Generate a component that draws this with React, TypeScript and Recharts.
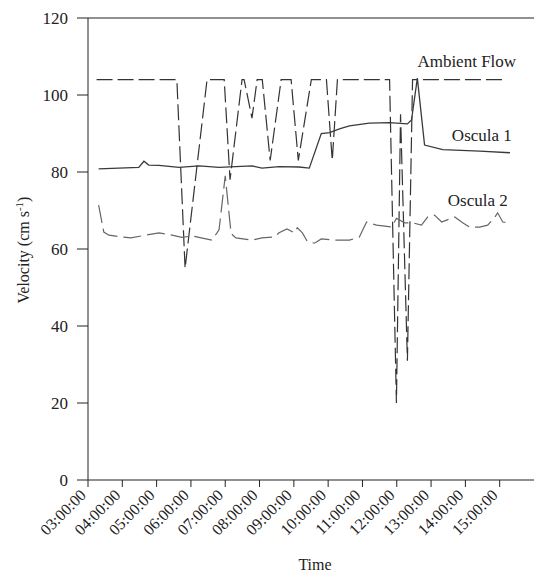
import { Label, Line, LineChart, ReferenceDot, ReferenceLine, XAxis, YAxis } from "recharts";

const FONT = "'Liberation Serif', 'Times New Roman', serif";
const INK = "#222";

const hourTicks = [3, 4, 5, 6, 7, 8, 9, 10, 11, 12, 13, 14, 15];
const hourLabels = [
  "03:00:00", "04:00:00", "05:00:00", "06:00:00", "07:00:00", "08:00:00", "09:00:00",
  "10:00:00", "11:00:00", "12:00:00", "13:00:00", "14:00:00", "15:00:00",
];
const velocityTicks = [0, 20, 40, 60, 80, 100, 120];

// time in decimal hours, velocity in cm/s
const ambientTime = [
  3.25, 5.59, 5.83, 6.47, 6.97, 7.14, 7.49, 7.55, 7.78, 7.93, 8.08, 8.31, 8.63, 8.92, 9.13,
  9.51, 9.95, 10.12, 10.27, 11.79, 11.99, 12.11, 12.31, 12.46, 15.09,
];
const ambientVel = [
  104, 104, 55, 104, 104, 78, 104, 104, 94, 104, 104, 83, 104, 104, 83,
  104, 104, 83, 104, 104, 20, 95, 31, 104, 104,
];

const oscula1Time = [
  3.31, 4.48, 4.63, 4.77, 5.07, 5.65, 6.24, 6.82, 7.78, 8.07, 8.57, 9.15, 9.45, 9.8, 10.04,
  10.33, 10.62, 11.2, 11.79, 12.31, 12.43, 12.6, 12.81, 13.34, 14.42, 15.3,
];
const oscula1Vel = [
  80.8, 81.2, 82.8, 81.8, 81.7, 81.2, 81.6, 81.2, 81.6, 81.0, 81.4, 81.3, 81.0, 90, 90.2,
  91.2, 92, 92.7, 92.8, 92.5, 93.5, 104.4, 87, 85.8, 85.4, 85,
];

const oscula2Time = [
  3.31, 3.46, 3.61, 3.99, 4.25, 4.69, 5.07, 5.45, 5.74, 6.03, 6.61, 6.76, 6.82, 7.0, 7.17,
  7.31, 7.78, 8.07, 8.43, 8.57, 8.8, 9.01, 9.1, 9.25, 9.39, 9.6, 9.8, 10.18, 10.62, 10.91,
  11.12, 11.41, 11.85, 11.99, 12.23, 12.46, 12.72, 12.9, 13.1, 13.31, 13.45, 13.69, 13.92,
  14.12, 14.42, 14.65, 14.86, 14.94, 15.09, 15.24,
];
const oscula2Vel = [
  71.4, 64.4, 63.6, 63.1, 62.9, 63.6, 64.2, 63.6, 63.0, 63.4, 62.3, 64.2, 65, 79, 64,
  62.9, 62.3, 62.9, 63.1, 64.2, 65.2, 64.2, 65.5, 64.2, 62, 61.5, 62.6, 62.3, 62.3, 63.1,
  67, 66.2, 65.7, 68, 66.8, 66.8, 66.2, 68.3, 68.8, 67, 67.5, 68.3, 66.8,
  65.7, 65.7, 66.2, 68.3, 69.4, 67, 66.8,
];

const toRows = (times: number[], vals: number[]) => times.map((t, i) => ({ t, v: vals[i] }));
const ambientData = toRows(ambientTime, ambientVel);
const oscula1Data = toRows(oscula1Time, oscula1Vel);
const oscula2Data = toRows(oscula2Time, oscula2Vel);

function TimeTick(props: any) {
  const { x, payload } = props;
  const label = hourLabels[hourTicks.indexOf(payload.value)] ?? "";
  return (
    <text
      x={0}
      y={0}
      transform={`translate(${x - 1},496) rotate(-45)`}
      textAnchor="end"
      fontFamily={FONT}
      fontSize={16}
      fill={INK}
    >
      {label}
    </text>
  );
}

const VelocityTitle = () => (
  <text
    x={0}
    y={0}
    transform="translate(29,250) rotate(-90)"
    textAnchor="middle"
    fontFamily={FONT}
    fontSize={16}
    fill={INK}
  >
    Velocity (cm s<tspan dy={-6} fontSize={11}>-1</tspan>
    <tspan dy={6}>)</tspan>
  </text>
);

const TimeTitle = () => (
  <text x={315} y={570} textAnchor="middle" fontFamily={FONT} fontSize={16} fill={INK}>
    Time
  </text>
);

const seriesLabel = (value: string) => ({
  value,
  position: "center" as const,
  fill: INK,
  fontSize: 17,
  fontFamily: FONT,
});

export default function App() {
  return (
    <div style={{ position: "absolute", left: 0, top: 0, background: "#fff" }}>
      <LineChart width={534} height={580} margin={{ top: 18, right: 0, bottom: 0, left: 0 }}>
        <XAxis
          dataKey="t"
          type="number"
          domain={[3, 16]}
          ticks={hourTicks}
          allowDataOverflow
          height={100}
          tickSize={7}
          tick={<TimeTick />}
          axisLine={{ stroke: INK }}
          tickLine={{ stroke: INK }}
          interval={0}
        >
          <Label content={<TimeTitle />} />
        </XAxis>
        <YAxis
          domain={[0, 120]}
          ticks={velocityTicks}
          width={88}
          tickSize={11}
          tickMargin={9}
          axisLine={{ stroke: INK }}
          tickLine={{ stroke: INK }}
          tick={{ fill: INK, fontSize: 17, fontFamily: FONT }}
          interval={0}
        >
          <Label content={<VelocityTitle />} />
        </YAxis>
        <ReferenceLine y={120} stroke={INK} strokeWidth={1} />
        <Line
          data={ambientData}
          dataKey="v"
          stroke="#333"
          strokeWidth={1.2}
          strokeDasharray="16 5"
          dot={false}
          isAnimationActive={false}
        />
        <Line
          data={oscula1Data}
          dataKey="v"
          stroke="#3a3a3a"
          strokeWidth={1.3}
          dot={false}
          isAnimationActive={false}
        />
        <Line
          data={oscula2Data}
          dataKey="v"
          stroke="#666"
          strokeWidth={1.2}
          strokeDasharray="18 6"
          dot={false}
          isAnimationActive={false}
        />
        <ReferenceDot x={14.04} y={108.8} r={0} ifOverflow="visible" label={seriesLabel("Ambient Flow")} />
        <ReferenceDot x={14.48} y={89.6} r={0} ifOverflow="visible" label={seriesLabel("Oscula 1")} />
        <ReferenceDot x={14.36} y={72.7} r={0} ifOverflow="visible" label={seriesLabel("Oscula 2")} />
      </LineChart>
    </div>
  );
}
